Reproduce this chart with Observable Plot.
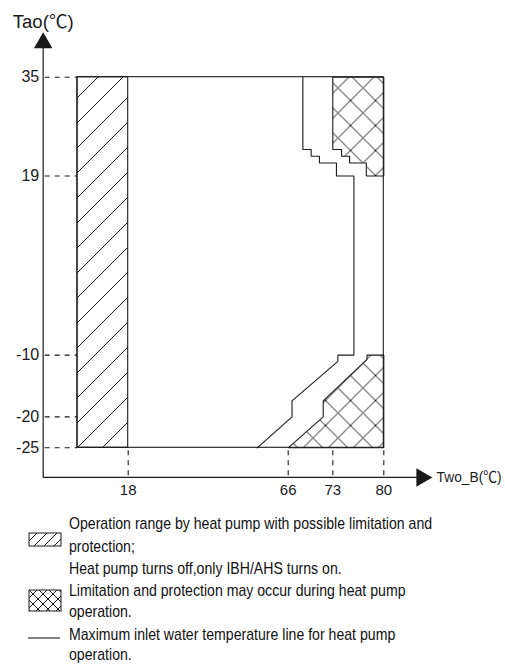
<!DOCTYPE html>
<html><head><meta charset="utf-8">
<script src="https://cdn.jsdelivr.net/npm/d3@7"></script>
<script src="https://cdn.jsdelivr.net/npm/@observablehq/plot@0.6"></script>
<style>
html,body{margin:0;padding:0;background:#fff;overflow:hidden}
body{font-family:"Liberation Sans",Arial,"Noto Sans CJK SC",sans-serif;color:#111}
#legend{position:relative;width:505px;height:165px}
#legend .t{position:absolute;left:69px;font-size:17px;line-height:16px;white-space:nowrap;transform:scaleX(0.83);transform-origin:0 50%}
#legend svg{position:absolute;left:28px}
</style></head><body>
<div id="chart"></div>
<div id="legend"></div>
<script>
// ---- data ----
const xTicks = [18, 66, 73, 80];            // Two_B (°C)
const yTicks = [35, 19, -10, -20, -25];     // Tao (°C)
const xLeft = 5;                             // unlabelled left edge of the diagram
const xBreaks = [5, 18, 66, 73, 80];         // diagram is not to scale: piecewise x
// maximum inlet water temperature line
const maxLineX = [68.3, 68.3, 69.6, 69.6, 70.9, 70.9, 73.5, 73.5, 75.9, 75.9, 73.7, 73.7, 66.6, 66.6, 56.7];
const maxLineY = [35, 23.3, 23.3, 22.2, 22.2, 21.1, 21.1, 19, 19, -10, -10, -11, -17.4, -20, -25];
// limitation/protection zone (top)
const limTopX = [73, 80, 80, 77.6, 77.6, 75.3, 75.3, 74.2, 74.2, 73, 73];
const limTopY = [35, 35, 19, 19, 21.1, 21.1, 22.2, 22.2, 23.3, 23.3, 35];
// limitation/protection zone (bottom)
const limBotX = [77.7, 80, 80, 66, 71.5, 71.5, 77.7, 77.7];
const limBotY = [-10, -10, -25, -25, -20, -17.4, -10.7, -10];
// axis extents
const xAxisStart = -3.8, xArrow = 85.2, xArrowTip = 86.7;
const yAxisBottom = -29.8, yArrow = 40.55, yArrowTip = 42.3;

const legendLines = [
  "Operation range by heat pump with possible limitation and",
  "protection;",
  "Heat pump turns off,only IBH/AHS turns on.",
  "Limitation and protection may occur during heat pump",
  "operation.",
  "Maximum inlet water temperature line for heat pump",
  "operation."
];

const pts = (xs, ys) => xs.map((x, i) => ({x, y: ys[i]}));
const ink = "#1a1a1a";

const svg = Plot.plot({
  width: 505, height: 500,
  marginTop: 0, marginRight: 0, marginBottom: 0, marginLeft: 0,
  style: {fontFamily: "'Liberation Sans', Arial, 'Noto Sans CJK SC', sans-serif", color: ink, background: "#fff"},
  x: {type: "linear", domain: xBreaks, range: [77, 127.7, 287.7, 332.3, 383.3], axis: null},
  y: {type: "linear", domain: [-25, 35], range: [447.3, 76.7], axis: null},
  marks: [
    Plot.rect([{x1: xLeft, x2: 18, y1: -25, y2: 35}], {x1: "x1", x2: "x2", y1: "y1", y2: "y2", fill: "url(#hatch)", stroke: ink, strokeWidth: 1.1}),
    Plot.line(pts(limTopX, limTopY), {x: "x", y: "y", fill: "url(#xhatch)", stroke: ink, strokeWidth: 1.1, strokeLinejoin: "miter"}),
    Plot.line(pts(limBotX, limBotY), {x: "x", y: "y", fill: "url(#xhatch)", stroke: ink, strokeWidth: 1.1, strokeLinejoin: "miter"}),
    Plot.rect([{x1: xLeft, x2: 80, y1: -25, y2: 35}], {x1: "x1", x2: "x2", y1: "y1", y2: "y2", fill: "none", stroke: ink, strokeWidth: 1.1}),
    Plot.line(pts(maxLineX, maxLineY), {x: "x", y: "y", stroke: ink, strokeWidth: 1.1, strokeLinejoin: "miter"}),
    // dashed guides
    Plot.ruleY(yTicks, {y: d => d, x1: xAxisStart, x2: xLeft, stroke: ink, strokeWidth: 1.1, strokeDasharray: "5,5", strokeDashoffset: -2}),
    Plot.ruleX(xTicks, {x: d => d, y1: -25, y2: yAxisBottom, stroke: ink, strokeWidth: 1.1, strokeDasharray: "5,5", strokeDashoffset: -3}),
    // axes
    Plot.ruleX([xAxisStart], {x: d => d, y1: yAxisBottom, y2: yArrow, stroke: ink, strokeWidth: 1.2}),
    Plot.ruleY([yAxisBottom], {y: d => d, x1: xAxisStart, x2: xArrow, stroke: ink, strokeWidth: 1.2}),
    Plot.dot([{x: xAxisStart, y: yArrow}], {x: "x", y: "y", symbol: "triangle", r: 6.86, fill: ink, stroke: "none"}),
    Plot.dot([{x: xArrow, y: yAxisBottom}], {x: "x", y: "y", symbol: "triangle", r: 6.86, rotate: 90, fill: ink, stroke: "none"}),
    // labels
    Plot.text(yTicks, {x: xAxisStart, y: d => d, text: d => String(d), textAnchor: "end", dx: -4, fontSize: 16, fill: ink}),
    Plot.text(xTicks, {x: d => d, y: yAxisBottom, text: d => String(d), lineAnchor: "top", dy: 7, fontSize: 15, fill: ink}),
    Plot.text(["Tao(℃)"], {x: xAxisStart, y: yArrowTip, text: d => d, lineAnchor: "middle", dy: -10, fontSize: 18, fill: ink}),
    Plot.text(["Two_B(℃)"], {x: xArrowTip, y: yAxisBottom, text: d => d, textAnchor: "start", lineAnchor: "middle", dx: 4, fontSize: 14.5, fill: ink})
  ]
});

// fit the two axis titles to the reference widths (condensed face)
d3.select(svg).selectAll("text").each(function () {
  const s = this.textContent;
  if (s === "Two_B(℃)") d3.select(this).attr("textLength", 65).attr("lengthAdjust", "spacingAndGlyphs");
  if (s === "Tao(℃)") d3.select(this).attr("textLength", 61).attr("lengthAdjust", "spacingAndGlyphs");
});

const defs = d3.select(svg).insert("defs", ":first-child");
function addPattern(sel, id, size, both) {
  const p = sel.append("pattern").attr("id", id).attr("patternUnits", "userSpaceOnUse")
    .attr("width", size).attr("height", size);
  let d = `M0,${size}L${size},0M-5,5L5,-5M${size-5},${size+5}L${size+5},${size-5}`;
  if (both) d += `M0,0L${size},${size}M${size-5},-5L${size+5},5M-5,${size-5}L5,${size+5}`;
  p.append("path").attr("d", d).attr("stroke", ink).attr("stroke-width", 1).attr("fill", "none");
}
addPattern(defs, "hatch", 25, false);
addPattern(defs, "xhatch", 25, true);
document.getElementById("chart").appendChild(svg);

// ---- legend ----
const legend = d3.select("#legend");
const centers = [24, 47, 69, 91, 112, 135, 155];
legendLines.forEach((s, i) => {
  legend.append("div").attr("class", "t").style("top", (centers[i] - 8) + "px").text(s);
});
function swatch(top, h, id, both) {
  const s = legend.append("svg").attr("width", 34).attr("height", h + 2).style("top", top + "px");
  const sd = s.append("defs");
  addPattern(sd, id, 10, both);
  s.append("rect").attr("x", 1).attr("y", 1).attr("width", 32).attr("height", h)
    .attr("fill", `url(#${id})`).attr("stroke", ink).attr("stroke-width", 1);
}
swatch(32, 13, "lhatch", false);
swatch(89, 21, "lxhatch", true);
legend.append("svg").attr("width", 34).attr("height", 4).style("top", "136px")
  .append("line").attr("x1", 0).attr("x2", 32).attr("y1", 2).attr("y2", 2)
  .attr("stroke", ink).attr("stroke-width", 1.1);
</script>
</body></html>
